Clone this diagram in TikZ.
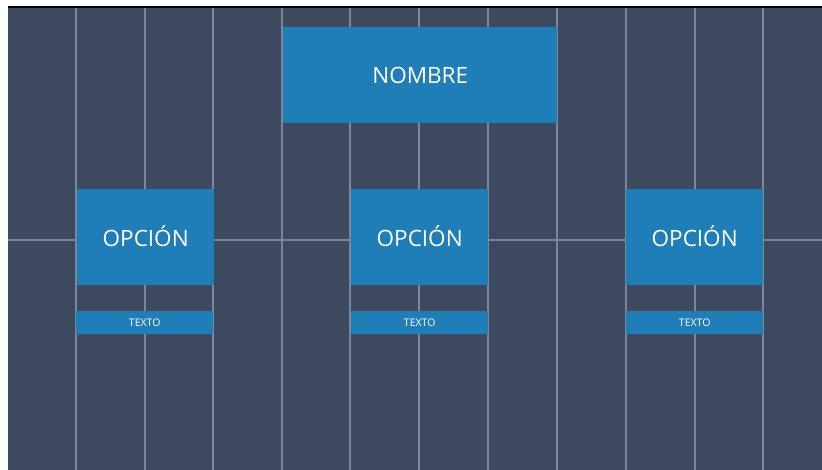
\documentclass[tikz,border=0pt]{standalone}
\usepackage{fontspec}
\setmainfont{Open Sans}
\definecolor{panel}{HTML}{3C495E}
\definecolor{gridline}{HTML}{7A8699}
\definecolor{boxblue}{HTML}{1F7DB8}

\tikzset{
  box/.style={fill=boxblue, draw=none, inner sep=0pt, text=white, anchor=north west},
  titlebox/.style={box, minimum width=274pt, minimum height=96pt, font=\fontsize{22.5}{24}\selectfont},
  optbox/.style={box, minimum width=137pt, minimum height=96pt, font=\fontsize{22.5}{24}\selectfont},
  textbar/.style={box, minimum width=137pt, minimum height=23pt, font=\fontsize{10.5}{12}\selectfont},
  guide/.style={draw=gridline, line width=1.3pt}
}

\begin{document}
\begin{tikzpicture}[x=1pt, y=-1pt]
	  % Page size and background
	  \useasboundingbox (0,0) rectangle (822,470);
	  \fill[white] (0,0) rectangle (822,470);
	  \fill[panel] (8,8) rectangle (822,470);
	  \draw[black, line width=1.6pt] (8,7) -- (822,7);
	
	  % Guide lines
	  \foreach \gx in {76,145,213,282,350,419,488,557,626,695,763}
	    \draw[guide] (\gx,8) -- (\gx,470);
	  \draw[guide] (8,240) -- (822,240);
	
	  % Title
	  \node[titlebox] (nombre) at (283,27) {NOMBRE};
	
	  % Options with their text bars
	  \node[optbox] (opcA) at (77,189) {\raisebox{2pt}{OPCIÓN}};
	  \node[optbox] (opcB) at (351,189) {\raisebox{2pt}{OPCIÓN}};
	  \node[optbox] (opcC) at (626,189) {\raisebox{2pt}{OPCIÓN}};
	
	  \node[textbar] (textoA) at (76,311) {TEXTO};
	  \node[textbar] (textoB) at (351,311) {TEXTO};
	  \node[textbar] (textoC) at (626,311) {TEXTO};
	\end{tikzpicture}
\end{document}
